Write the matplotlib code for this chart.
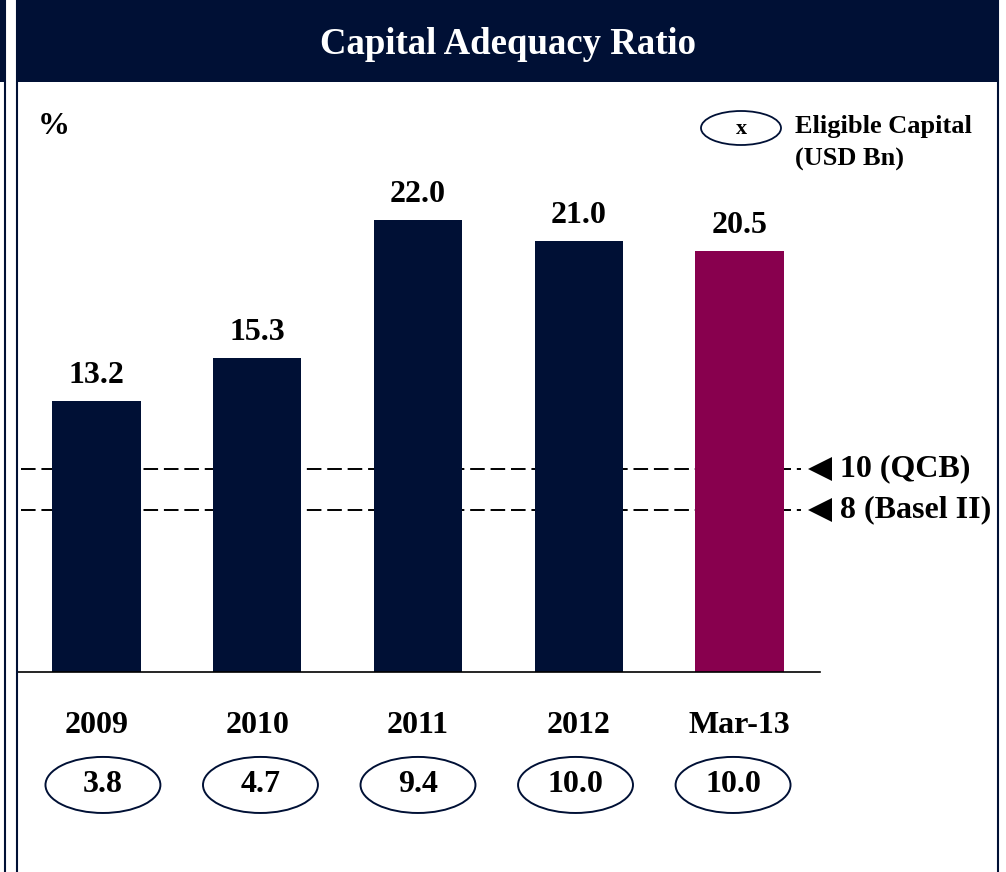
import matplotlib
matplotlib.use("Agg")
import matplotlib.pyplot as plt
import matplotlib.patches as mpatches

# Datos
periods = ["2009", "2010", "2011", "2012", "Mar-13"]
car_pct = [13.2, 15.3, 22.0, 21.0, 20.5]
eligible_capital = [3.8, 4.7, 9.4, 10.0, 10.0]
thresholds = [10, 8]
threshold_labels = ["10 (QCB)", "8 (Basel II)"]

NAVY = "#001035"
MAROON = "#88004E"
SERIF = ["Liberation Serif", "DejaVu Serif"]

W, H = 1006, 872
fig = plt.figure(figsize=(W / 100, H / 100), dpi=100)
fig.patch.set_facecolor("white")


def px(x0, y0, w, h):
    """Rectángulo en píxeles (origen arriba-izquierda) -> coordenadas de figura."""
    return [x0 / W, 1 - (y0 + h) / H, w / W, h / H]


# bandas y bordes del panel
fig.add_artist(mpatches.Rectangle((0, 1 - 82 / H), 5 / W, 82 / H, transform=fig.transFigure,
                                  facecolor=NAVY, edgecolor="none"))
fig.add_artist(mpatches.Rectangle((17 / W, 1 - 82 / H), 981 / W, 82 / H, transform=fig.transFigure,
                                  facecolor=NAVY, edgecolor="none"))
for xp in (4.5, 17, 997.5):
    fig.add_artist(plt.Line2D([xp / W, xp / W], [0, 1], transform=fig.transFigure,
                              color=NAVY, lw=1.5))
fig.text(508 / W, 1 - 45 / H, "Capital Adequacy Ratio", color="white", fontsize=26.5,
         fontweight="bold", family=SERIF, ha="center", va="center")

# eje principal: x en índices de barra, y en %
ax = fig.add_axes(px(17, 82, 980, 790))
ax.set_xlim(-0.4946, 5.602)
ax.set_ylim(-9.74, 28.74)
ax.axis("off")

x = list(range(len(periods)))
colors = [NAVY] * (len(periods) - 1) + [MAROON]
ax.bar(x, car_pct, width=0.55, color=colors, zorder=2)
for xi, v in zip(x, car_pct):
    ax.text(xi, v + 0.55, f"{v:.1f}", ha="center", va="bottom", fontsize=23,
            fontweight="bold", family=SERIF)

# línea base
ax.plot([-0.4946, 4.5], [0, 0], color="black", lw=1.2, zorder=3)

# líneas regulatorias
for t, lab in zip(thresholds, threshold_labels):
    yl = t - 0.1
    ax.plot([-0.47, 4.38], [yl, yl], color="black", lw=1.4,
            dashes=(7.5, 3), zorder=1)
    ax.plot([4.50], [yl], marker="<", markersize=17, color="black",
            markeredgewidth=0, clip_on=False)
    ax.text(4.625, yl, lab, ha="left", va="center", fontsize=23,
            fontweight="bold", family=SERIF)

# etiquetas de periodo y capital elegible (las elipses van algo más juntas)
for xi, lab, cap in zip(x, periods, eligible_capital):
    ax.text(xi, -2.6, lab, ha="center", va="center", fontsize=23,
            fontweight="bold", family=SERIF)
    xe = 2 + (xi - 2) * 0.98
    ax.add_patch(mpatches.Ellipse((xe, -5.5), 0.715, 2.73, facecolor="none",
                                  edgecolor=NAVY, lw=1.4, clip_on=False))
    ax.text(xe, -5.5, f"{cap:.1f}", ha="center", va="center", fontsize=23,
            fontweight="bold", family=SERIF)

# unidad y leyenda
fig.text(38 / W, 1 - 127 / H, "%", fontsize=23, fontweight="bold", family=SERIF,
         ha="left", va="center")
fig.add_artist(mpatches.Ellipse((741 / W, 1 - 128 / H), 80 / W, 34 / H,
                                transform=fig.transFigure, facecolor="none",
                                edgecolor=NAVY, lw=1.3))
fig.text(741 / W, 1 - 129 / H, "x", fontsize=16, fontweight="bold", family=SERIF,
         ha="center", va="center")
fig.text(795 / W, 1 - 127 / H, "Eligible Capital", fontsize=19, fontweight="bold",
         family=SERIF, ha="left", va="center")
fig.text(795 / W, 1 - 159 / H, "(USD Bn)", fontsize=19, fontweight="bold",
         family=SERIF, ha="left", va="center")

fig.savefig("out.png", dpi=100, facecolor="white")
